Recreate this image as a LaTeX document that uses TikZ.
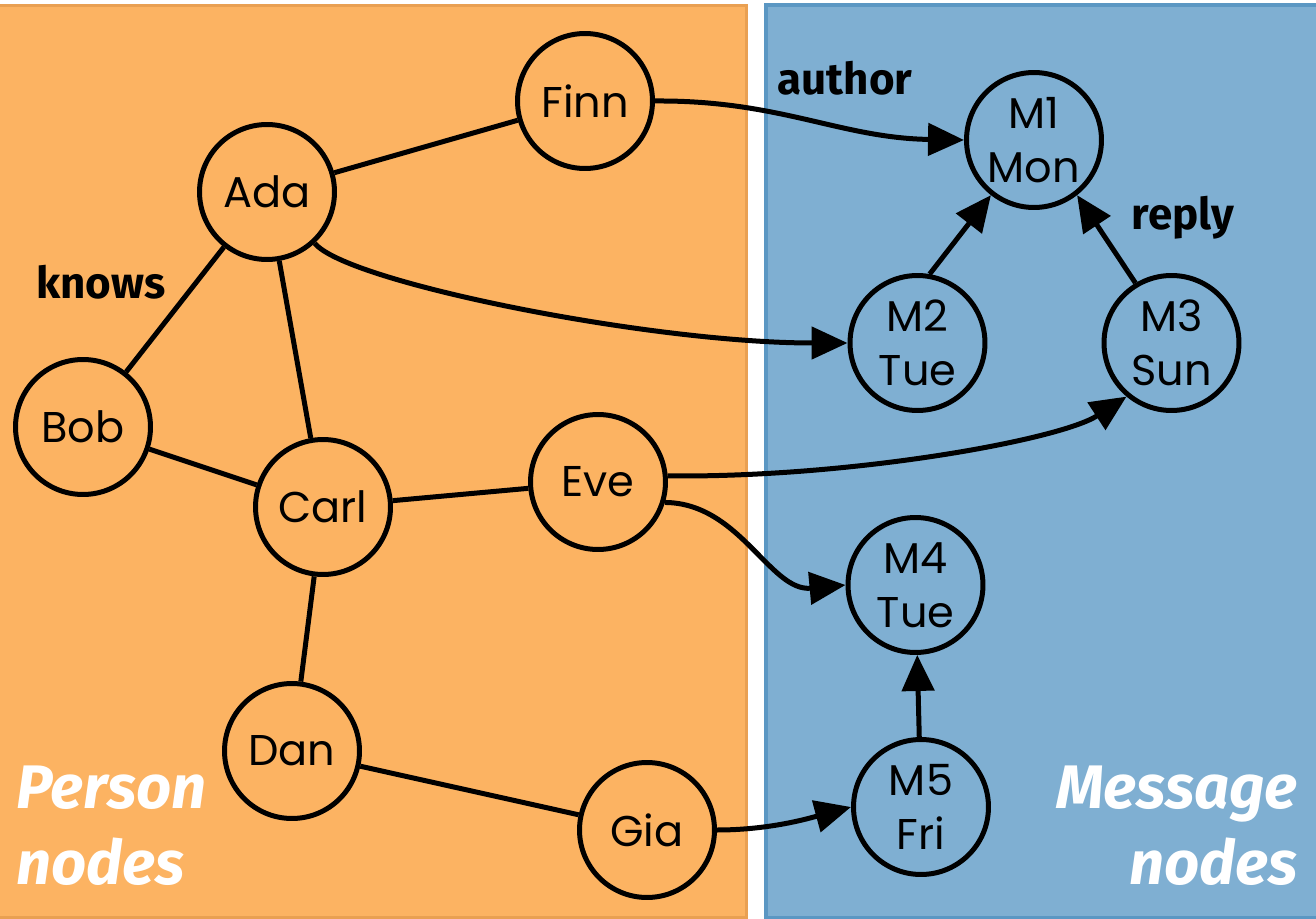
\documentclass[tikz,border=0pt]{standalone}
\usepackage{fontspec}
\usetikzlibrary{arrows.meta}
\newfontfamily\nodefont{Poppins}
\newfontfamily\labfont{Fira Sans}
\definecolor{porange}{HTML}{FCB362}
\definecolor{porangeline}{HTML}{E9A052}
\definecolor{pblue}{HTML}{7FAFD2}
\definecolor{pblueline}{HTML}{5B97C3}
\tikzset{
  vertex/.style={circle, draw=black, line width=0.1cm, minimum size=2.7cm, inner sep=0pt,
    font=\nodefont\fontsize{24.5}{30.6}\selectfont, align=center},
  pnode/.style={vertex, fill=porange},
  mnode/.style={vertex, fill=pblue},
  edge/.style={line width=0.1cm, black},
  arc/.style={edge, -{Triangle[length=0.72cm, width=0.64cm]}},
  elabel/.style={font=\labfont\bfseries\fontsize{25}{28}\selectfont, inner sep=0pt},
  plabel/.style={font=\labfont\bfseries\itshape\fontsize{35}{42}\selectfont, text=white, inner sep=0pt}
}
\begin{document}
\begin{tikzpicture}[x=0.02cm, y=-0.02cm]
\useasboundingbox (0,0) rectangle (1316,919);
\begin{scope}
\clip (0,0) rectangle (1316,919);
\fill[white] (0,0) rectangle (1316,919);
\draw[fill=porange, draw=porangeline, line width=0.07cm] (-20,5.5) rectangle (746.5,917.5);
\draw[fill=pblue, draw=pblueline, line width=0.08cm] (766,5.5) rectangle (1340,917.5);
\end{scope}

% panel labels
\node[plabel, anchor=base west] (p1) at (16,808) {Person};
\node[plabel, anchor=base west] (p2) at (16,884) {nodes};
\node[plabel, anchor=base east] (m1l) at (1298,808) {Message};
\node[plabel, anchor=base east] (m2l) at (1298,884) {nodes};

% person nodes
\node[pnode] (Finn) at (585,101) {Finn};
\node[pnode] (Ada) at (267,192) {Ada};
\node[pnode] (Bob) at (83,427) {Bob};
\node[pnode] (Carl) at (323,507) {Carl};
\node[pnode] (Eve) at (598,482) {Eve};
\node[pnode] (Dan) at (292,751) {Dan};
\node[pnode] (Gia) at (647,830) {Gia};

% message nodes
\node[mnode] (M1) at (1034,140) {M1\\Mon};
\node[mnode] (M2) at (917.5,343) {M2\\Tue};
\node[mnode] (M3) at (1171.5,343) {M3\\Sun};
\node[mnode] (M4) at (915.5,585) {M4\\Tue};
\node[mnode] (M5) at (921,807) {M5\\Fri};

% knows edges
\draw[edge] (Ada) -- (Finn);
\draw[edge] (Ada) -- (Bob);
\draw[edge] (Ada) -- (Carl);
\draw[edge] (Bob) -- (Carl);
\draw[edge] (Carl) -- (Eve);
\draw[edge] (Carl) -- (Dan);
\draw[edge] (Dan) -- (Gia);

% author edges
\draw[arc] (Finn.east) .. controls (780,100) and (840,138) .. (M1.west);
\draw[arc] (Ada.-47) .. controls (345,282) and (650,343) .. (M2.west);
\draw[arc] (Eve.5) .. controls (850,478) and (1060,440) .. (M3.230);
\draw[arc] (Eve.-17) .. controls (740,503) and (770,592) .. (M4.west);
\draw[arc] (Gia.east) .. controls (770,830) and (810,818) .. (M5.west);

% reply edges
\draw[arc] (M2.80) -- (M1.232);
\draw[arc] (M3.121) -- (M1.-52);
\draw[arc] (M5) -- (M4);

% edge labels
\node[elabel] (knows) at (101,282) {knows};
\node[elabel] (author) at (845,78) {author};
\node[elabel] (reply) at (1183,218) {reply};
\end{tikzpicture}
\end{document}
